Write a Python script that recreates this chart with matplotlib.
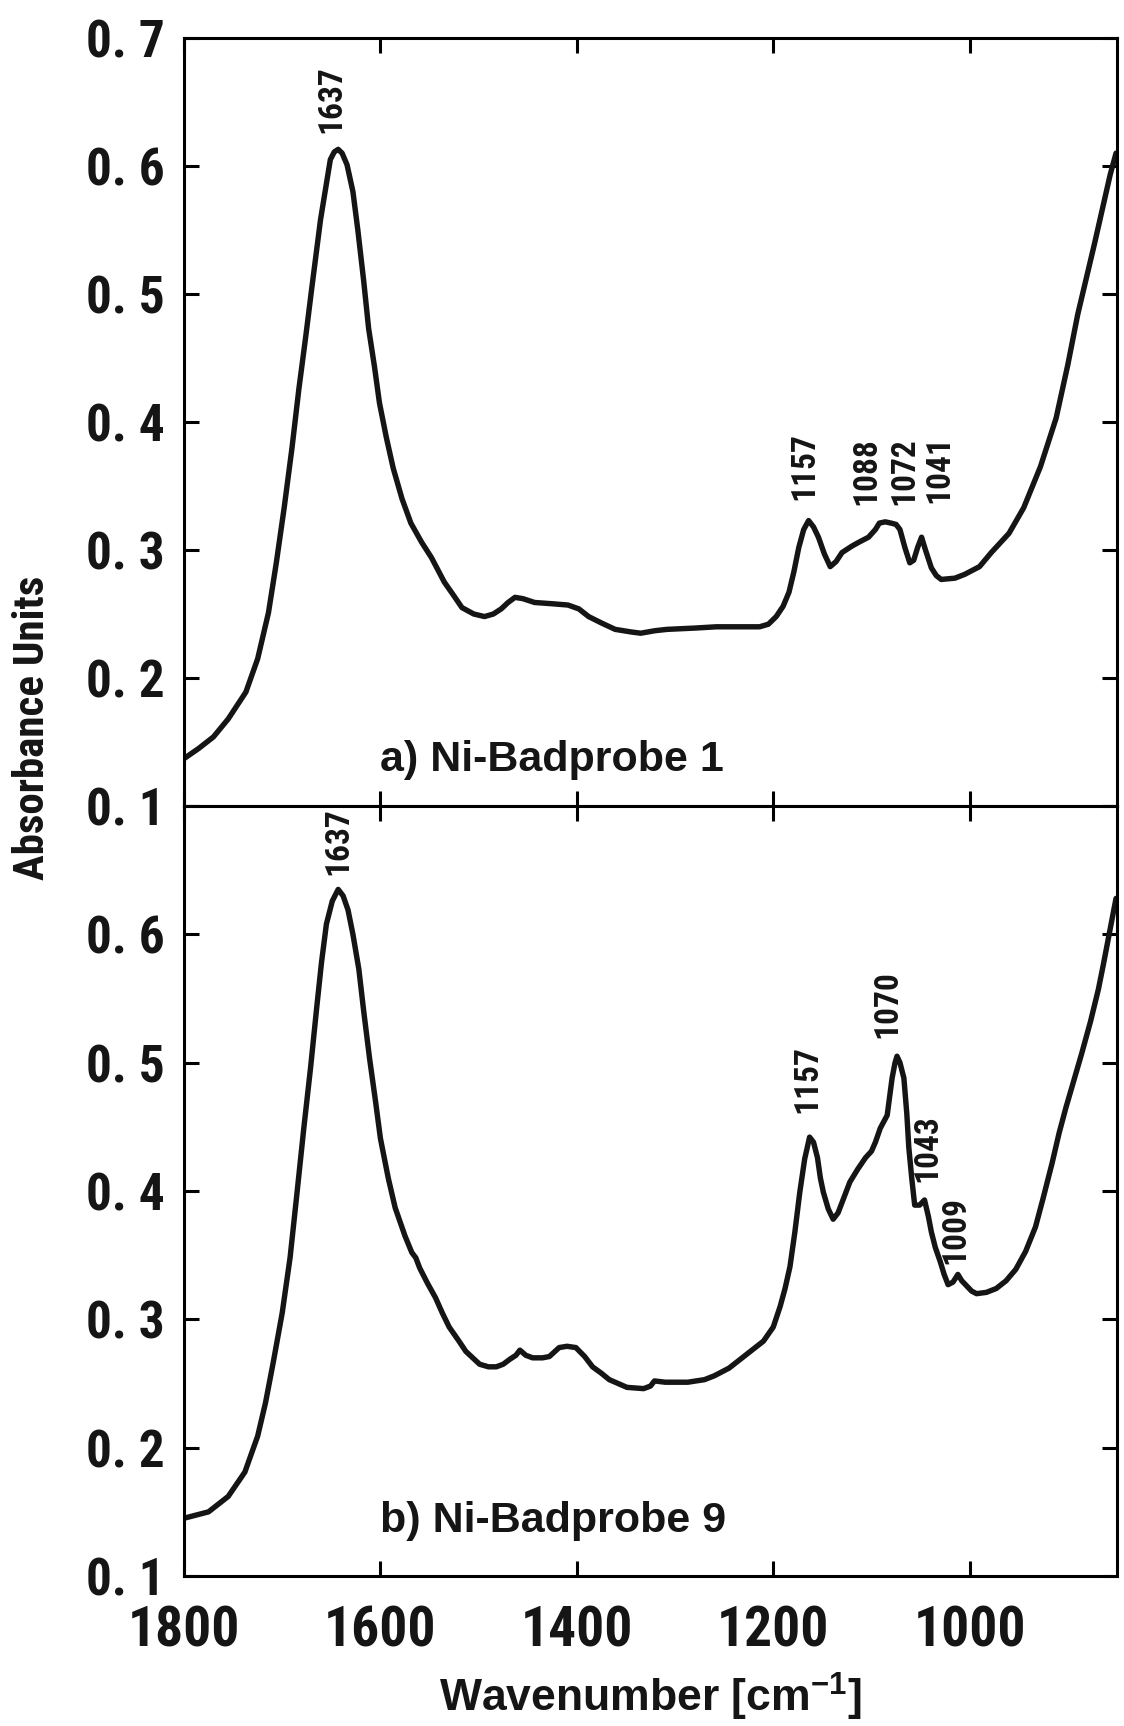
import matplotlib
matplotlib.use("Agg")
import matplotlib.pyplot as plt
from matplotlib import font_manager
from matplotlib.ticker import FixedLocator, FixedFormatter

# ---------------- data ----------------
wn_a = [1800, 1785, 1770, 1755, 1737, 1725, 1714, 1706, 1698, 1690, 1683, 1676, 1670, 1661,
        1651, 1647, 1643, 1639, 1634, 1628, 1623, 1617, 1612, 1606, 1601, 1594, 1587, 1578,
        1569, 1558, 1548, 1535, 1525, 1517, 1505, 1494, 1485, 1477, 1470, 1463, 1455, 1443,
        1425, 1409, 1398, 1388, 1375, 1361, 1345, 1335, 1320, 1308, 1280, 1258, 1230, 1214,
        1205, 1197, 1190, 1184, 1179, 1174, 1169, 1164, 1159, 1154, 1148, 1142, 1136, 1130,
        1120, 1113, 1103, 1096, 1092, 1086, 1080, 1075, 1071, 1066, 1061, 1057, 1053, 1049,
        1045, 1039, 1034, 1029, 1015, 1005, 990, 978, 960, 945, 928, 912, 900, 890, 873,
        857, 851]
abs_a = [0.137, 0.145, 0.154, 0.168, 0.189, 0.215, 0.251, 0.290, 0.333, 0.380, 0.426, 0.467,
         0.504, 0.558, 0.605, 0.611, 0.613, 0.610, 0.601, 0.580, 0.550, 0.510, 0.473, 0.443,
         0.415, 0.388, 0.364, 0.340, 0.321, 0.306, 0.294, 0.275, 0.264, 0.255, 0.250, 0.248,
         0.250, 0.254, 0.259, 0.263, 0.262, 0.259, 0.258, 0.257, 0.254, 0.248, 0.243, 0.238,
         0.236, 0.235, 0.237, 0.238, 0.239, 0.240, 0.240, 0.240, 0.242, 0.248, 0.256, 0.267,
         0.283, 0.302, 0.316, 0.323, 0.318, 0.310, 0.297, 0.287, 0.291, 0.298, 0.303, 0.306,
         0.310, 0.316, 0.321, 0.322, 0.321, 0.320, 0.316, 0.302, 0.290, 0.292, 0.302, 0.310,
         0.300, 0.286, 0.280, 0.277, 0.278, 0.281, 0.287, 0.298, 0.313, 0.333, 0.365, 0.403,
         0.445, 0.484, 0.539, 0.593, 0.610]

wn_b = [1800, 1775, 1755, 1738, 1725, 1717, 1709, 1700, 1692, 1685, 1678, 1671, 1665, 1660,
        1655, 1649, 1643, 1638, 1633, 1628, 1622, 1617, 1611, 1605, 1600, 1592, 1585, 1575,
        1568, 1564, 1560, 1552, 1544, 1537, 1530, 1520, 1513, 1506, 1499, 1490, 1482, 1475,
        1468, 1462, 1458, 1452, 1445, 1435, 1428, 1418, 1410, 1401, 1392, 1384, 1375, 1367,
        1358, 1349, 1332, 1325, 1321, 1310, 1287, 1270, 1260, 1245, 1230, 1210, 1200, 1193,
        1188, 1183, 1178, 1173, 1168, 1163, 1159, 1155, 1152, 1149, 1144, 1139, 1134, 1128,
        1122, 1114, 1106, 1100, 1096, 1091, 1084, 1079, 1076, 1074, 1071, 1067, 1064, 1062,
        1059, 1056, 1051, 1046, 1042, 1039, 1035, 1030, 1026, 1022, 1017, 1012, 1008, 1003,
        998, 993, 983, 973, 963, 953, 943, 933, 925, 916, 909, 902, 894, 886, 877, 869, 864,
        859, 855, 851]
abs_b = [0.145, 0.150, 0.162, 0.181, 0.209, 0.235, 0.267, 0.305, 0.348, 0.398, 0.449, 0.497,
         0.542, 0.578, 0.608, 0.626, 0.635, 0.630, 0.619, 0.600, 0.573, 0.540, 0.503, 0.470,
         0.441, 0.410, 0.387, 0.365, 0.352, 0.348, 0.340, 0.328, 0.317, 0.305, 0.294, 0.283,
         0.275, 0.270, 0.265, 0.263, 0.263, 0.265, 0.269, 0.272, 0.276, 0.272, 0.270, 0.270,
         0.271, 0.278, 0.279, 0.278, 0.271, 0.263, 0.258, 0.253, 0.250, 0.247, 0.246, 0.248,
         0.252, 0.251, 0.251, 0.253, 0.256, 0.262, 0.271, 0.283, 0.294, 0.310, 0.324, 0.341,
         0.368, 0.399, 0.425, 0.442, 0.438, 0.426, 0.410, 0.399, 0.386, 0.378, 0.383, 0.395,
         0.407, 0.417, 0.426, 0.431, 0.438, 0.449, 0.459, 0.488, 0.500, 0.505, 0.500, 0.488,
         0.460, 0.434, 0.410, 0.389, 0.389, 0.393, 0.380, 0.368, 0.356, 0.345, 0.335, 0.327,
         0.329, 0.335, 0.330, 0.326, 0.322, 0.320, 0.321, 0.324, 0.330, 0.339, 0.353, 0.372,
         0.395, 0.422, 0.445, 0.465, 0.486, 0.507, 0.532, 0.557, 0.576, 0.596, 0.612, 0.628]

peak_text_a = ["1637", "1157", "1088", "1072", "1041"]
peak_x_a = [1650, 1168, 1105, 1067, 1031]
peak_y_a = [0.626, 0.339, 0.335, 0.335, 0.337]

peak_text_b = ["1637", "1157", "1070", "1043", "1009"]
peak_x_b = [1643, 1165, 1084, 1043, 1015]
peak_y_b = [0.646, 0.461, 0.519, 0.407, 0.343]

panel_titles = ["a) Ni-Badprobe 1", "b) Ni-Badprobe 9"]
x_ticks = [1800, 1600, 1400, 1200, 1000]
x_ticklabels = ["1800", "1600", "1400", "1200", "1000"]
y_ticks = [0.1, 0.2, 0.3, 0.4, 0.5, 0.6, 0.7]
y_ticklabels = ["0. 1", "0. 2", "0. 3", "0. 4", "0. 5", "0. 6", "0. 7"]
x_label = "Wavenumber [cm$^{-1}$]"
y_label = "Absorbance Units"

# ---------------- fonts ----------------
available = {f.name for f in font_manager.fontManager.ttflist}
def pick(*names):
    for n in names:
        if n in available:
            return n
    return "DejaVu Sans"

F_WIDE = pick("Liberation Sans", "Arial", "DejaVu Sans")
F_NARROW = pick("Liberation Sans Narrow", "Roboto Condensed", "Liberation Sans")
narrow_ok = F_NARROW != F_WIDE

plt.rcParams["mathtext.fontset"] = "custom"
plt.rcParams["mathtext.rm"] = F_WIDE + ":bold"
plt.rcParams["mathtext.it"] = F_WIDE + ":bold"
plt.rcParams["mathtext.bf"] = F_WIDE + ":bold"
plt.rcParams["mathtext.default"] = "rm"

INK = "#151515"
W, H = 1124, 1726
fig = plt.figure(figsize=(W / 100, H / 100), dpi=100)
fig.patch.set_facecolor("white")

left = 184 / W
width = (1117 - 184) / W
ax_top = fig.add_axes([left, 1 - 806 / H, width, (806 - 38) / H])
ax_bot = fig.add_axes([left, 1 - 1576 / H, width, (1576 - 806) / H])

for ax, wn, ab in [(ax_top, wn_a, abs_a), (ax_bot, wn_b, abs_b)]:
    ax.plot(wn, ab, color=INK, lw=3.9, solid_joinstyle="round", solid_capstyle="round")
    ax.set_xlim(1800, 850)
    ax.set_ylim(0.1, 0.7)
    for s in ax.spines.values():
        s.set_linewidth(2.2)
        s.set_color("black")
    ax.xaxis.set_major_locator(FixedLocator(x_ticks))
    ax.yaxis.set_major_locator(FixedLocator(y_ticks))
    ax.tick_params(which="both", direction="in", length=11, width=2.2, color="black",
                   top=True, right=True)

# y tick labels
ax_top.yaxis.set_major_formatter(FixedFormatter(y_ticklabels))
ax_bot.yaxis.set_major_formatter(FixedFormatter(y_ticklabels[:-1] + [""]))
for ax in (ax_top, ax_bot):
    for lab in ax.get_yticklabels():
        lab.set_fontfamily(F_NARROW)
        lab.set_fontweight("bold")
        lab.set_fontsize(37 if narrow_ok else 34)
        lab.set_color(INK)
    ax.tick_params(axis="y", pad=14)

# x tick labels
ax_top.tick_params(axis="x", labelbottom=False)
ax_bot.xaxis.set_major_formatter(FixedFormatter(x_ticklabels))
for lab in ax_bot.get_xticklabels():
    lab.set_fontfamily(F_NARROW)
    lab.set_fontweight("bold")
    lab.set_fontsize(40 if narrow_ok else 33)
    lab.set_color(INK)
ax_bot.tick_params(axis="x", pad=21)

# peak labels
peak_fs = 24 if narrow_ok else 19
for ax, texts, xs, ys in [(ax_top, peak_text_a, peak_x_a, peak_y_a),
                          (ax_bot, peak_text_b, peak_x_b, peak_y_b)]:
    for t, x, y in zip(texts, xs, ys):
        ax.text(x, y, t, rotation=90, ha="center", va="bottom", fontsize=peak_fs,
                fontweight="bold", family=F_NARROW, color=INK, clip_on=False)

# panel titles
for ax, title, y in [(ax_top, panel_titles[0], 0.136), (ax_bot, panel_titles[1], 0.143)]:
    ax.text(1600, y, title, ha="left", va="center", fontsize=31, fontweight="bold",
            family=F_WIDE, color=INK)

# axis labels
fig.text(33 / W, 1 - 728 / H, y_label, rotation=90, ha="center", va="center",
         fontsize=31 if narrow_ok else 27, fontweight="bold", family=F_NARROW, color=INK)
fig.text(left + width / 2, 1 - 1697 / H, x_label, ha="center", va="center",
         fontsize=32, fontweight="bold", family=F_WIDE, color=INK)

fig.savefig("out.png", dpi=100, facecolor="white")
